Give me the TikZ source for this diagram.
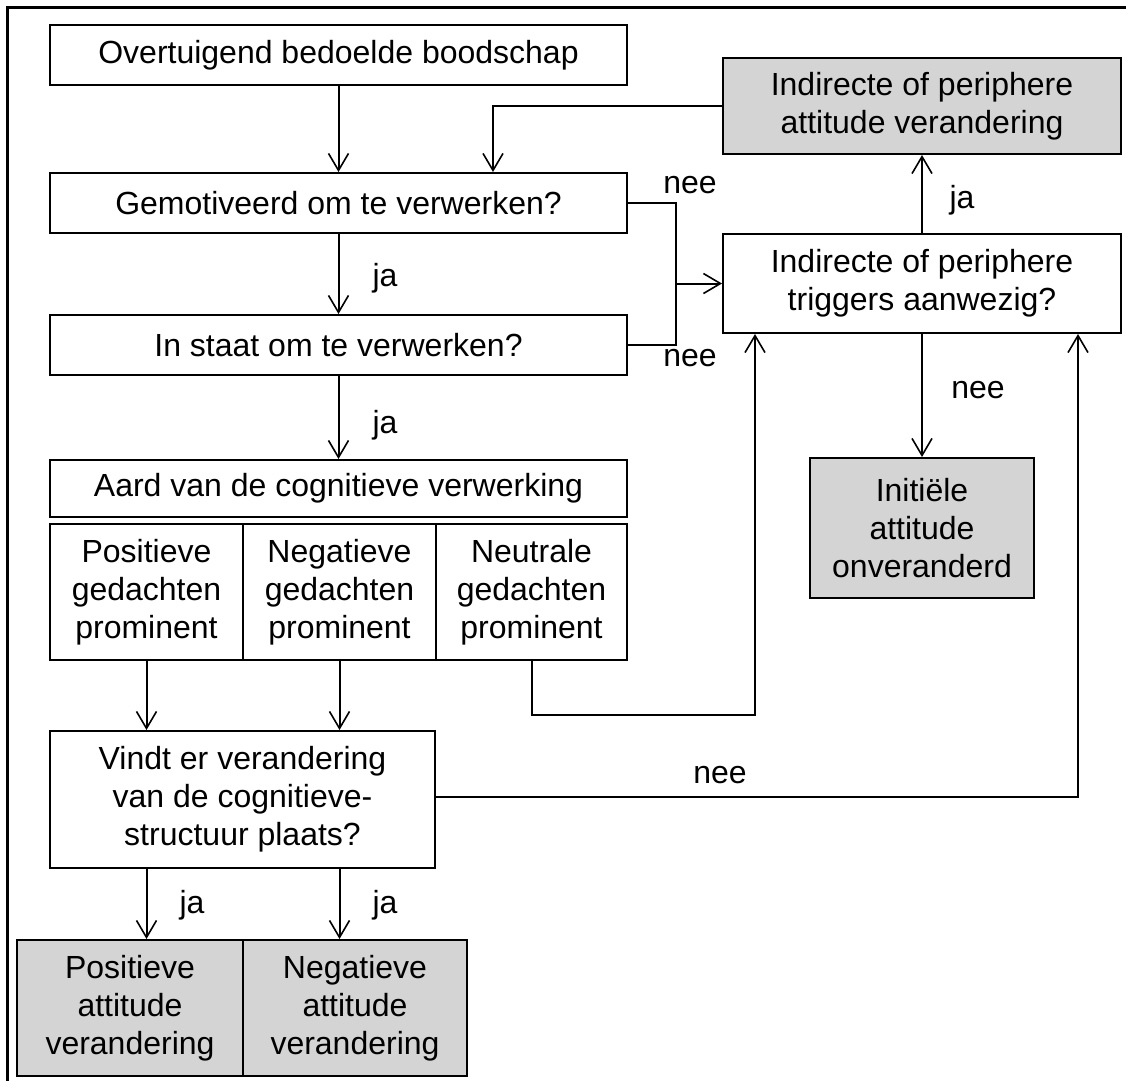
\documentclass[tikz,border=0pt]{standalone}
\usepackage{fontspec}
\setmainfont{Liberation Sans}
\usetikzlibrary{arrows.meta}
\definecolor{shade}{RGB}{212,212,212}
\begin{document}
\begin{tikzpicture}[x=1pt,y=-1pt,
  every node/.style={font=\fontsize{32}{38}\selectfont},
  box/.style={draw, line width=2pt, inner sep=0pt, align=center},
  endbox/.style={box, fill=shade},
  arr/.style={line width=2pt, -{Straight Barb[length=17pt,width=20pt,line width=1.6pt]}},
  ln/.style={line width=2pt},
  lbl/.style={inner sep=0pt}]
\useasboundingbox (0,0) rectangle (1126,1080);
\fill[white] (0,0) rectangle (1126,1080);
% outer frame
\draw[line width=3pt] (7,1090) -- (7,7) -- (1140,7);

% left column
\node[box, minimum width=577pt, minimum height=60pt] (msg) at (338.5,55) {Overtuigend bedoelde boodschap};
\node[box, minimum width=577pt, minimum height=60pt] (mot) at (338.5,203) {Gemotiveerd om te verwerken?};
\node[box, minimum width=577pt, minimum height=60pt] (cap) at (338.5,345) {In staat om te verwerken?};
\node[box, minimum width=577pt, minimum height=57pt] (aard) at (338.5,488.5) {Aard van de cognitieve verwerking};
\node[box, minimum width=193pt, minimum height=136pt] (pos) at (146.5,592) {Positieve\\gedachten\\prominent};
\node[box, minimum width=193pt, minimum height=136pt] (neg) at (339.5,592) {Negatieve\\gedachten\\prominent};
\node[box, minimum width=191pt, minimum height=136pt] (neu) at (531.5,592) {Neutrale\\gedachten\\prominent};
\node[box, minimum width=385pt, minimum height=137pt] (vindt) at (242.5,799.5) {Vindt er verandering\\van de cognitieve-\\structuur plaats?};
\node[endbox, minimum width=226pt, minimum height=136pt] (posatt) at (130,1008) {Positieve\\attitude\\verandering};
\node[endbox, minimum width=224pt, minimum height=136pt] (negatt) at (355,1008) {Negatieve\\attitude\\verandering};

% right column
\node[endbox, minimum width=398pt, minimum height=96pt] (indatt) at (922,106) {Indirecte of periphere\\attitude verandering};
\node[box, minimum width=398pt, minimum height=99pt] (trig) at (922,283.5) {Indirecte of periphere\\triggers aanwezig?};
\node[endbox, minimum width=224pt, minimum height=140pt] (init) at (922,528) {Initiële\\attitude\\onveranderd};

% routing points
\coordinate (jn) at (676,283.5);
\coordinate (nb) at (755,715);
\coordinate (vr) at (1078,797);
\coordinate (lp) at (493,106);

% connectors
\draw[arr] (msg) -- (mot);
\draw[arr] (mot) -- (cap);
\draw[arr] (cap) -- (aard);
\draw[arr] (pos.south) -- (pos.south |- vindt.north);
\draw[arr] (neg.south) -- (neg.south |- vindt.north);
\draw[arr] (neu.south) |- (nb) -- (nb |- trig.south);
\draw[arr] (vindt.east |- vr) -- (vr) -- (vr |- trig.south);
\draw[ln] (mot.east) -| (jn) |- (cap.east);
\draw[arr] (jn) -- (trig.west);
\draw[arr] (trig) -- (indatt);
\draw[arr] (indatt.west) -- (lp) -- (lp |- mot.north);
\draw[arr] (trig) -- (init);
\draw[arr] (pos.south |- vindt.south) -- (pos.south |- posatt.north);
\draw[arr] (neg.south |- vindt.south) -- (neg.south |- negatt.north);

% branch labels
\node[lbl] (l1) at (385,278) {ja};
\node[lbl] (l2) at (385,425) {ja};
\node[lbl] (l3) at (962,200) {ja};
\node[lbl] (l4) at (192,905) {ja};
\node[lbl] (l5) at (385,905) {ja};
\node[lbl] (n1) at (690,185) {nee};
\node[lbl] (n2) at (690,358) {nee};
\node[lbl] (n3) at (978,390) {nee};
\node[lbl] (n4) at (720,775) {nee};
\end{tikzpicture}
\end{document}
